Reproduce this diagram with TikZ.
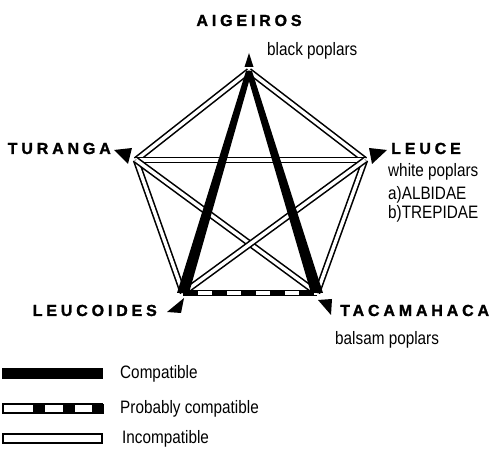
\documentclass[tikz,border=0pt]{standalone}
\usepackage{fontspec}
\setmainfont{Liberation Sans}[FakeStretch=0.85]
\newfontfamily\headfont{Liberation Sans}[LetterSpace=24, FakeBold=1.5]
\usetikzlibrary{calc, positioning}

\tikzset{
  incompat/.style={line width=1.6pt, double=white, double distance=3.4pt},
  probcompat/.style={line width=3.4pt, dash pattern=on 15pt off 14pt},
  keybox/.style={draw, line width=2pt, minimum width=99pt, minimum height=9pt, inner sep=0pt},
  cname/.style={font=\headfont\bfseries\fontsize{16}{16}\selectfont, inner sep=0pt},
  csub/.style={font=\fontsize{18}{20}\selectfont, inner sep=0pt}
}

\begin{document}
\begin{tikzpicture}[x=1pt, y=-1pt]
  \useasboundingbox (0,0) rectangle (491,457);

  \coordinate (aig) at (249,71);
  \coordinate (tur) at (136,160);
  \coordinate (leu) at (365,160);
  \coordinate (lcd) at (183,293);
  \coordinate (tac) at (317,293);

  \draw[incompat] (aig) -- (tur);
  \draw[incompat] (aig) -- (leu);
  \draw[incompat] (tur) -- (leu);
  \draw[incompat] (tur) -- (lcd);
  \draw[incompat] (leu) -- (tac);
  \draw[incompat] (tur) -- (tac);
  \draw[incompat] (leu) -- (lcd);
  \draw[incompat] (lcd) -- (tac);
  \draw[probcompat] (lcd) -- (tac);
  \fill ([xshift=-3pt]aig) -- ([xshift=-6pt]lcd) -- ([xshift=6pt]lcd) -- ([xshift=3pt]aig) -- cycle;
  \fill ([xshift=-3pt]aig) -- ([xshift=-6pt]tac) -- ([xshift=6pt]tac) -- ([xshift=3pt]aig) -- cycle;

  \fill ($(aig)+(0,-18)$) -- ($(aig)+(-4.5,-4)$) -- ($(aig)+(4.5,-4)$) -- cycle;
  \fill ($(tur)+(-8,4)$) -- ($(tur)+(-22,-10)$) -- ($(tur)+(-4,-12)$) -- cycle;
  \fill ($(leu)+(7,4)$) -- ($(leu)+(4,-12)$) -- ($(leu)+(22,-10)$) -- cycle;
  \fill ($(lcd)+(1,5)$) -- ($(lcd)+(-16,19)$) -- ($(lcd)+(-2,20)$) -- cycle;
  \fill ($(tac)+(1,7)$) -- ($(tac)+(15,6)$) -- ($(tac)+(14,22)$) -- cycle;

  \node[cname, anchor=base] (aigname) at (249,26) {AIGEIROS};
  \node[csub, anchor=base west] (aigsub) at (267,56) {black poplars};
  \node[cname, anchor=base east] (turname) at (111,154) {TURANGA};
  \node[cname, anchor=base west] (leuname) at (391,154) {LEUCE};
  \node[csub, anchor=base west] (leusub) at (388,177) {white poplars};
  \node[csub, anchor=base west] (leualb) at (388,200) {a)ALBIDAE};
  \node[csub, anchor=base west] (leutre) at (388,219) {b)TREPIDAE};
  \node[cname, anchor=base east] (lcdname) at (157,316) {LEUCOIDES};
  \node[cname, anchor=base west] (tacname) at (340,316) {TACAMAHACA};
  \node[csub, anchor=base west] (tacsub) at (335,345) {balsam poplars};

  \node[keybox, fill=black] (kcomp) at (52.5,374) {};
  \node[keybox] (kprob) at (52.5,409) {};
  \node[keybox] (kinc) at (52.5,439) {};
  \foreach \x in {31,61,90}
    \fill ([xshift=\x pt]kprob.south west) rectangle ++(12,-10);
  \node[csub, right=17pt of kcomp] {Compatible};
  \node[csub, right=17pt of kprob] {Probably compatible};
  \node[csub, right=19pt of kinc] {Incompatible};
\end{tikzpicture}
\end{document}
